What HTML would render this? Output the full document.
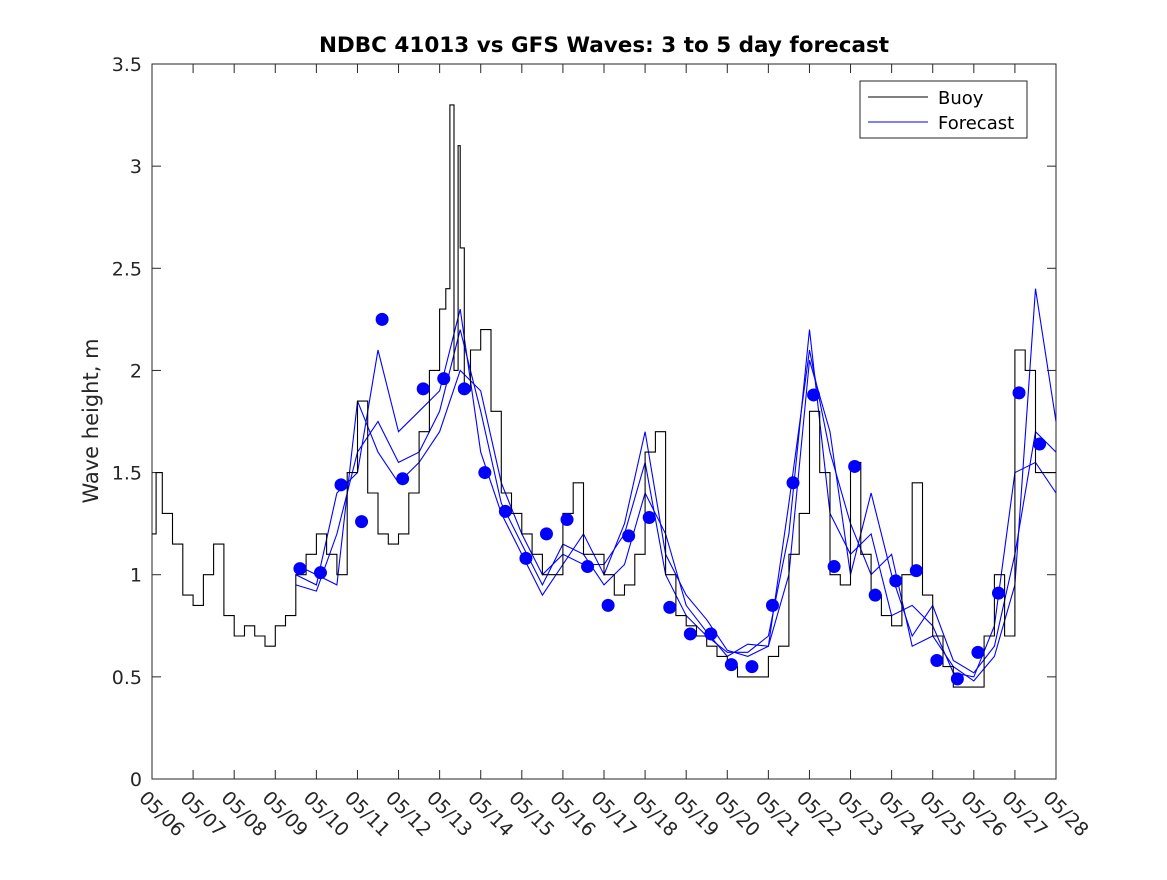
<!DOCTYPE html>
<html><head><meta charset="utf-8"><style>
body{margin:0;background:#fff;font-family:"Liberation Sans","DejaVu Sans",sans-serif}
svg text{font-family:"DejaVu Sans","Liberation Sans",sans-serif}
</style></head><body>
<svg id="c" width="1167" height="875">
<rect width="1167" height="875" fill="#fff"/>
</svg>
<script>
const xLabels=["05/06","05/07","05/08","05/09","05/10","05/11","05/12","05/13","05/14","05/15","05/16","05/17","05/18","05/19","05/20","05/21","05/22","05/23","05/24","05/25","05/26","05/27","05/28"];
const yTicks=[0,0.5,1,1.5,2,2.5,3,3.5];
const buoyDays=[0,0.1,0.25,0.5,0.75,1,1.25,1.5,1.75,2,2.25,2.5,2.75,3,3.25,3.5,3.75,4,4.25,4.5,4.75,5,5.25,5.5,5.75,6,6.25,6.5,6.75,7,7.15,7.25,7.35,7.45,7.5,7.6,7.75,8,8.25,8.5,8.75,9,9.25,9.5,9.75,10,10.25,10.5,10.75,11,11.25,11.5,11.75,12,12.25,12.5,12.75,13,13.25,13.5,13.75,14,14.25,14.5,14.75,15,15.25,15.5,15.75,16,16.25,16.5,16.75,17,17.25,17.5,17.75,18,18.25,18.5,18.75,19,19.25,19.5,19.75,20,20.25,20.5,20.75,21,21.25,21.5,21.75,22];
const buoyVals=[1.2,1.5,1.3,1.15,0.9,0.85,1.0,1.15,0.8,0.7,0.75,0.7,0.65,0.75,0.8,1.0,1.1,1.2,1.1,1.0,1.5,1.85,1.4,1.2,1.15,1.2,1.4,1.7,2.0,2.3,2.4,3.3,2.0,3.1,2.6,1.9,2.1,2.2,1.8,1.4,1.3,1.2,1.1,1.0,1.0,1.3,1.45,1.1,1.1,1.0,0.9,0.95,1.1,1.6,1.7,1.0,0.8,0.75,0.7,0.65,0.6,0.55,0.5,0.5,0.5,0.6,0.65,1.1,1.3,1.8,1.5,1.0,0.95,1.55,1.1,0.9,0.8,0.75,1.0,1.45,0.9,0.7,0.55,0.45,0.45,0.45,0.7,1.0,0.7,2.1,2.0,1.5,1.5,1.5];
const fcStart=3.5, fcStep=0.5;
const fc1=[1.05,1.0,0.95,1.85,1.6,1.45,1.55,1.7,2.0,1.9,1.45,1.2,1.0,1.1,1.05,1.05,1.2,1.55,1.0,0.8,0.7,0.62,0.62,0.7,1.2,2.2,1.3,1.1,1.2,0.8,0.85,0.75,0.52,0.5,0.75,1.5,1.55,1.4];
const fc2=[0.95,0.92,1.2,1.6,1.75,1.55,1.6,1.8,2.2,1.8,1.35,1.15,0.95,1.15,1.1,0.95,1.05,1.4,1.2,0.85,0.72,0.6,0.66,0.65,1.0,2.05,1.7,1.0,1.4,1.0,0.7,0.85,0.58,0.52,0.65,1.1,1.7,1.6];
const fc3=[1.0,0.95,1.4,1.5,2.1,1.7,1.8,1.9,2.3,1.6,1.3,1.1,0.9,1.05,1.2,1.0,1.25,1.7,1.1,0.9,0.78,0.63,0.6,0.65,1.35,2.1,1.6,1.25,1.0,1.1,0.65,0.7,0.55,0.48,0.6,0.95,2.4,1.75];
const dotDays=[3.6,4.1,4.6,5.1,5.6,6.1,6.6,7.1,7.6,8.1,8.6,9.1,9.6,10.1,10.6,11.1,11.6,12.1,12.6,13.1,13.6,14.1,14.6,15.1,15.6,16.1,16.6,17.1,17.6,18.1,18.6,19.1,19.6,20.1,20.6,21.1,21.6];
const dotVals=[1.03,1.01,1.44,1.26,2.25,1.47,1.91,1.96,1.91,1.50,1.31,1.08,1.20,1.27,1.04,0.85,1.19,1.28,0.84,0.71,0.71,0.56,0.55,0.85,1.45,1.88,1.04,1.53,0.90,0.97,1.02,0.58,0.49,0.62,0.91,1.89,1.64];

const L=152,R=1056,T=64,B=779;
const X=d=>L+(R-L)*d/22, Y=v=>B-(B-T)*v/3.5;
const svg=document.getElementById('c'), NS='http://www.w3.org/2000/svg';
function mk(t,a,p){const e=document.createElementNS(NS,t);for(const k in a)e.setAttribute(k,a[k]);(p||svg).appendChild(e);return e;}

const frame=mk('rect',{x:L,y:T,width:R-L,height:B-T,fill:'#fff',stroke:'#262626','stroke-width':1});



xLabels.forEach((s,i)=>{
  const x=X(i);
  mk('line',{x1:x,y1:B,x2:x,y2:B-9,stroke:'#262626'});
  mk('line',{x1:x,y1:T,x2:x,y2:T+9,stroke:'#262626'});
  const t=mk('text',{x:x-14,y:B+20,'font-size':19,fill:'#262626',transform:`rotate(45 ${x-14} ${B+20})`});
  t.textContent=s;
  
  
});
yTicks.forEach(v=>{
  const y=Y(v);
  mk('line',{x1:L,y1:y,x2:L+9,y2:y,stroke:'#262626'});
  mk('line',{x1:R,y1:y,x2:R-9,y2:y,stroke:'#262626'});
  const t=mk('text',{x:L-10,y:y+7,'font-size':19,fill:'#262626','text-anchor':'end'});
  t.textContent=String(v);
  
  
});

[fc1,fc2,fc3].forEach((arr,k)=>{
  const pts=arr.map((v,i)=>X(fcStart+fcStep*i).toFixed(1)+','+Y(v).toFixed(1)).join(' ');
  const p=mk('polyline',{points:pts,fill:'none',stroke:'#0000ff','stroke-width':1.1});
  
  
});
let bpts=[];
buoyDays.forEach((d,i)=>{
  if(i>0) bpts.push(X(d).toFixed(1)+','+Y(buoyVals[i-1]).toFixed(1));
  bpts.push(X(d).toFixed(1)+','+Y(buoyVals[i]).toFixed(1));
});
const bl=mk('polyline',{points:bpts.join(' '),fill:'none',stroke:'#000','stroke-width':1.1});


dotDays.forEach((d,i)=>{
  const c=mk('circle',{cx:X(d),cy:Y(dotVals[i]),r:6.5,fill:'#0000ff'});
  
  
});

const title=mk('text',{x:604,y:52,'font-size':21.5,'font-weight':'bold','text-anchor':'middle',fill:'#000'});
title.textContent='NDBC 41013 vs GFS Waves: 3 to 5 day forecast';


const yt=mk('text',{x:98,y:421,'font-size':21,'text-anchor':'middle',fill:'#262626',transform:'rotate(-90 98 421)'});
yt.textContent='Wave height, m';



const lg=mk('g',{});


mk('rect',{x:860,y:81,width:167,height:57,fill:'#fff',stroke:'#262626'},lg);
mk('line',{x1:868,y1:97,x2:928,y2:97,stroke:'#000'},lg);
mk('line',{x1:868,y1:122,x2:928,y2:122,stroke:'#0000ff'},lg);
const l1=mk('text',{x:938,y:104,'font-size':18,fill:'#000'},lg);l1.textContent='Buoy';


const l2=mk('text',{x:938,y:129,'font-size':18,fill:'#000'},lg);l2.textContent='Forecast';


</script>
</body></html>
